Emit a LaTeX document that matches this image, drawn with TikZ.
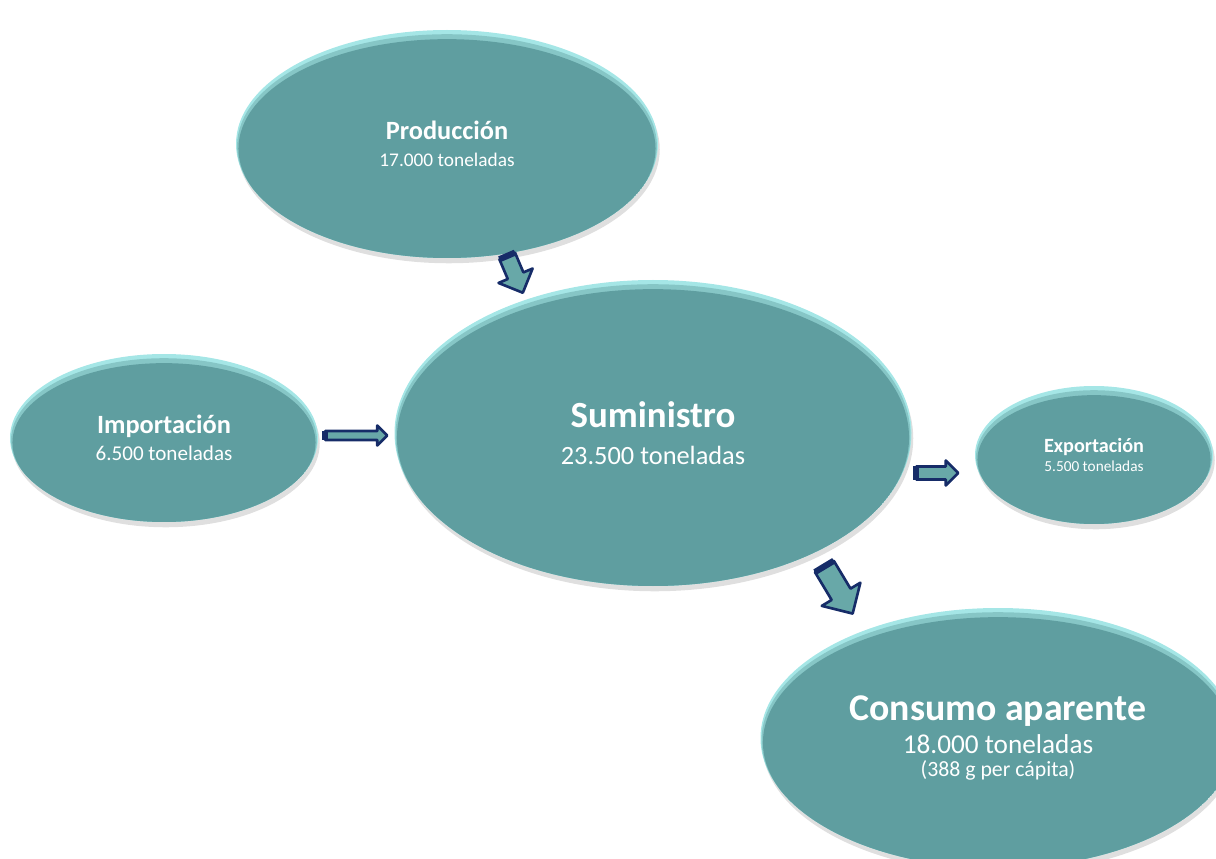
\documentclass[tikz,border=0pt]{standalone}
\usepackage{fontspec}
\setmainfont{Carlito}
\usetikzlibrary{
  calc,
  positioning,
  shadows,
  shapes.geometric,
}
\definecolor{cadet}{RGB}{95, 158, 160}
\definecolor{rim}{RGB}{165, 230, 230}
\definecolor{navy}{RGB}{22, 44, 104}
\definecolor{arrowfill}{RGB}{104, 168, 168}
\tikzstyle{blockarrow} = [
  draw=navy,
  fill=arrowfill,
  line width=1.5pt,
  line join=round,
]
\tikzstyle{tailband} = [
  navy,
  line width=3.5pt,
]
% block arrow centred on the origin: length, half body, half head
\tikzset{pics/blockarr/.style n args={3}{code={
  \filldraw [blockarrow] ({-#1/2},{-#2}) -- ({#1/2-#3},{-#2})
    -- ({#1/2-#3},{-#3}) -- ({#1/2},0) -- ({#1/2-#3},{#3})
    -- ({#1/2-#3},{#2}) -- ({-#1/2},{#2}) -- cycle;
  \draw [tailband] ({-#1/2},{-#2}) -- ({-#1/2},{#2});}}}

\begin{document}
\begin{tikzpicture}[oval/.style={ellipse, fill=rim, inner sep=0pt,
                                  text=white, align=center,
                                  drop shadow={opacity=0.25, shadow xshift=1pt,
                                               shadow yshift=-3pt},
                                  path picture={
      \fill [cadet!45!rim] let \p1=(path picture bounding box.north east),
                               \p2=(path picture bounding box.south west) in
            ($(path picture bounding box.center)+(0,-1.2pt)$)
            ellipse ({(\x1-\x2)/2-0.6pt} and {(\y1-\y2)/2-1.2pt});
      \fill [cadet] let \p1=(path picture bounding box.north east),
                        \p2=(path picture bounding box.south west) in
            ($(path picture bounding box.center)+(0,-2.6pt)$)
            ellipse ({(\x1-\x2)/2-1.4pt} and {(\y1-\y2)/2-2.6pt});}}]
    \useasboundingbox (0,0) rectangle (24.32,-17.18);
    % ovals
    \node [oval, minimum width=8.44cm, minimum height=4.56cm] (prod)
          at (8.94,-2.88)
          {\fontsize{15}{18}\selectfont\bfseries Producción\\[3pt]
           \fontsize{11}{13}\selectfont 17.000 toneladas};
    \node [oval, minimum width=10.34cm, minimum height=6.12cm] (sum)
          at (13.06,-8.66)
          {\fontsize{21}{25}\selectfont\bfseries Suministro\\[9pt]
           \fontsize{15}{18}\selectfont 23.500 toneladas};
    \node [oval, minimum width=6.16cm, minimum height=3.36cm] (imp)
          at (3.28,-8.76)
          {\fontsize{15}{18}\selectfont\bfseries Importación\\[3pt]
           \fontsize{12}{14}\selectfont 6.500 toneladas};
    \node [oval, minimum width=4.76cm, minimum height=2.76cm] (exp)
          at (21.88,-9.10)
          {\fontsize{11.5}{14}\selectfont\bfseries Exportación\\[-1.5pt]
           \fontsize{8.7}{11}\selectfont 5.500 toneladas};
    \node [oval, minimum width=9.5cm, minimum height=5.2cm] (cons)
          at (19.96,-14.76)
          {\fontsize{21.5}{26}\selectfont\bfseries Consumo aparente\\[4pt]
           \fontsize{15.5}{19}\selectfont 18.000 toneladas\\[1pt]
           \fontsize{12.4}{15}\selectfont (388 g per cápita)};
    % arrows
    \coordinate (a1) at ($(prod.south)+(1.36,-0.32)$);
    \coordinate (a2) at ($(imp.east)!0.5!(sum.west)$);
    \coordinate (a3) at ($(sum.east)!0.5!(exp.west)+(-0.12,-0.58)$);
    \coordinate (a4) at ($(sum.south)!0.5!(cons.north)+(0.26,0.14)$);
    \pic [rotate=-67] at (a1) {blockarr={0.8}{0.17}{0.37}};
    \pic at (a2) {blockarr={1.24}{0.09}{0.2}};
    \pic at (a3) {blockarr={0.84}{0.13}{0.25}};
    \pic [rotate=-59] at (a4) {blockarr={1.1}{0.22}{0.45}};
  \end{tikzpicture}
\end{document}
